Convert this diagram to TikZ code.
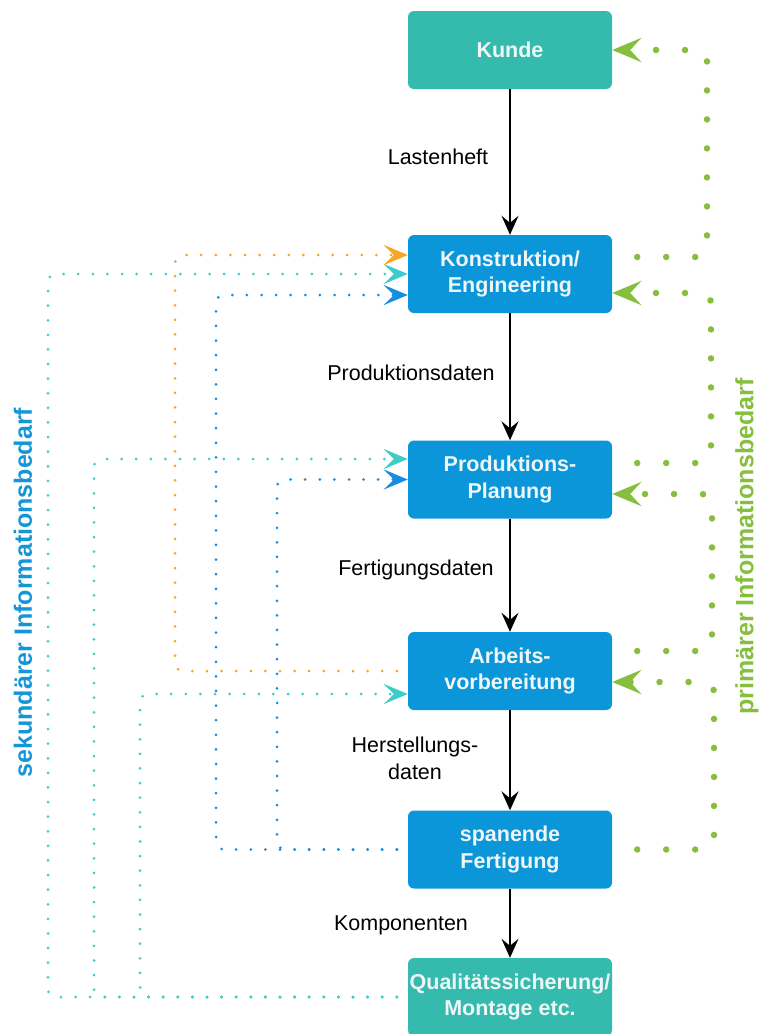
\documentclass[tikz,border=0pt]{standalone}
\usepackage{fontspec}
\setmainfont{Liberation Sans}
\usetikzlibrary{arrows.meta,calc}
\definecolor{boxteal}{HTML}{35BBAD}
\definecolor{boxblue}{HTML}{0A96D8}
\definecolor{grn}{HTML}{86BE3E}
\definecolor{orng}{HTML}{F6A623}
\definecolor{cyn}{HTML}{3CCDCB}
\definecolor{bdot}{HTML}{168EE0}
\definecolor{lblblue}{HTML}{1296D8}
\definecolor{txtw}{HTML}{EEF6F8}
\begin{document}
\begin{tikzpicture}[x=1pt,y=-1pt,
  proc/.style={rounded corners=6pt, minimum width=204pt, minimum height=78pt, inner sep=0pt,
    align=center, text=txtw, font=\fontsize{21.5}{26.5}\selectfont\bfseries},
  tealbox/.style={proc, fill=boxteal},
  bluebox/.style={proc, fill=boxblue},
  lbl/.style={align=center, font=\fontsize{21.5}{27}\selectfont, text=black, inner sep=0pt},
  flow/.style={line width=2pt, -{Stealth[length=19pt,width=17pt,inset=7pt]}},
  smalldot/.style={line width=3pt, line cap=round, dash pattern=on 0pt off 14.6pt, rounded corners=8pt, shorten <=11pt},
  bigdot/.style={line width=6.5pt, line cap=round, dash pattern=on 0pt off 29pt, rounded corners=10pt, shorten <=25pt},
  ltip/.style={-{Stealth[length=24pt,width=20pt,inset=10pt]}},
  gtip/.style={-{Stealth[length=29pt,width=24pt,inset=11pt]}},
  sidelbl/.style={rotate=90, inner sep=0pt, font=\fontsize{25}{30}\selectfont\bfseries}
]
\useasboundingbox (0,0) rectangle (759,1034);

% boxes
\node[tealbox] (ku) at (510,50) {Kunde};
\node[bluebox] (ko) at (510,274) {Konstruktion/\\Engineering};
\node[bluebox] (pp) at (510,479.5) {Produktions-\\Planung};
\node[bluebox] (av) at (510,671) {Arbeits-\\vorbereitung};
\node[bluebox] (sf) at (510,849.5) {spanende\\Fertigung};
\node[tealbox] (qs) at (510,997) {Qualitätssicherung/\\Montage etc.};

% main flow
\draw[flow] (ku) -- (ko);
\draw[flow] (ko) -- (pp);
\draw[flow] (pp) -- (av);
\draw[flow] (av) -- (sf);
\draw[flow] (sf) -- (qs);

% flow labels
\node[lbl] (l1) at (438,157) {Lastenheft};
\node[lbl] (l2) at (411,373) {Produktionsdaten};
\node[lbl] (l3) at (416,570) {Fertigungsdaten};
\node[lbl] (l4) at (415,758) {Herstellungs-\\daten};
\node[lbl] (l5) at (401,925) {Komponenten};

% corner x positions
\coordinate (xo) at (175,0);
\coordinate (xc1) at (48,0);
\coordinate (xc2) at (94,0);
\coordinate (xc3) at (140,0);
\coordinate (xb1) at (216,0);
\coordinate (xb2) at (277,0);
\coordinate (xg1) at (707,0);
\coordinate (xg2) at (711,0);
\coordinate (xg3) at (712,0);
\coordinate (xg4) at (714,0);

% secondary information need (left)
\draw[smalldot, cyn, ltip] (qs.west) -- (qs.west -| xc1) -- (ko.west -| xc1) -- (ko.west);
\draw[smalldot, cyn, ltip] (qs.west) -- (qs.west -| xc2) -- ([yshift=20.5pt]pp.west -| xc2) -- ([yshift=20.5pt]pp.west);
\draw[smalldot, cyn, ltip] (qs.west) -- (qs.west -| xc3) -- ([yshift=-23pt]av.west -| xc3) -- ([yshift=-23pt]av.west);
\draw[smalldot, bdot, ltip] (sf.west) -- (sf.west -| xb1) -- ([yshift=-21pt]ko.west -| xb1) -- ([yshift=-21pt]ko.west);
\draw[smalldot, bdot, ltip] (sf.west) -- (sf.west -| xb2) -- (pp.west -| xb2) -- (pp.west);
\draw[smalldot, orng, ltip] (av.west) -- (av.west -| xo) -- ([yshift=19pt]ko.west -| xo) -- ([yshift=19pt]ko.west);

% primary information need (right)
\draw[bigdot, grn, gtip] ([yshift=17pt]ko.east) -- ([yshift=17pt]ko.east -| xg1) -- (ku.east -| xg1) -- (ku.east);
\draw[bigdot, grn, gtip] ([yshift=16.5pt]pp.east) -- ([yshift=16.5pt]pp.east -| xg2) -- ([yshift=-19pt]ko.east -| xg2) -- ([yshift=-19pt]ko.east);
\draw[bigdot, grn, gtip] ([yshift=20pt]av.east) -- ([yshift=20pt]av.east -| xg3) -- ([yshift=-14.5pt]pp.east -| xg3) -- ([yshift=-14.5pt]pp.east);
\draw[bigdot, grn, gtip] (sf.east) -- (sf.east -| xg4) -- ([yshift=-11pt]av.east -| xg4) -- ([yshift=-11pt]av.east);

% side labels
\node[sidelbl, text=lblblue] (sek) at (23,592.5) {sekundärer Informationsbedarf};
\node[sidelbl, text=grn] (pri) at (747,546.5) {primärer Informationsbedarf};
\end{tikzpicture}
\end{document}
